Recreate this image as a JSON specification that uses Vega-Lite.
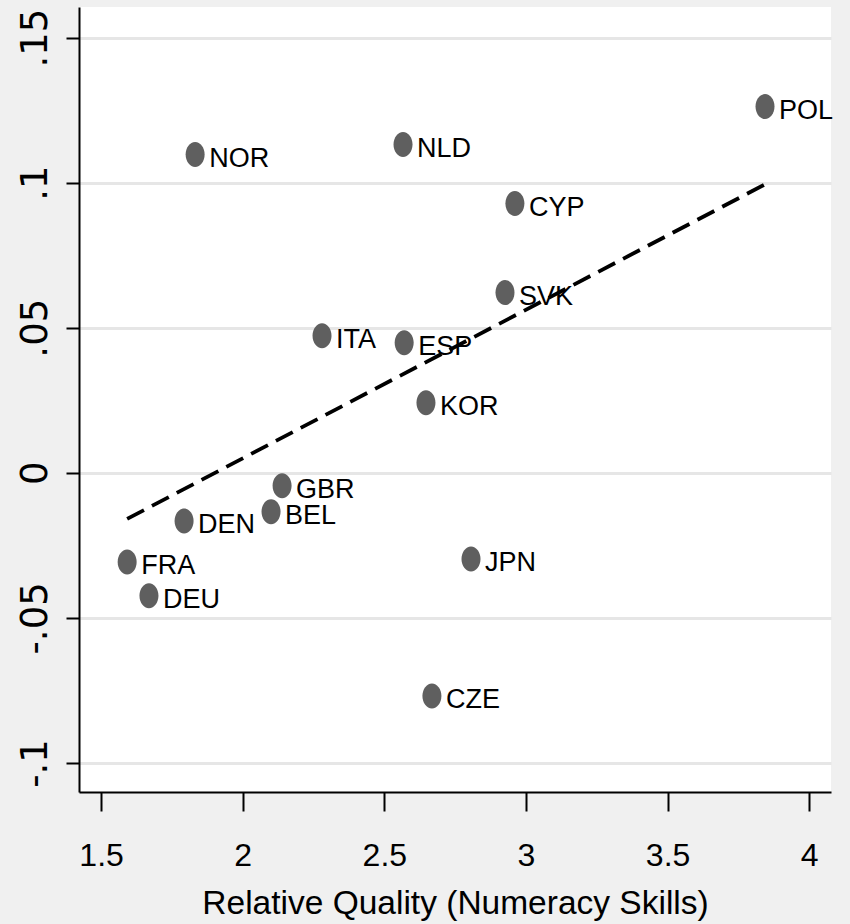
{
  "$schema": "https://vega.github.io/schema/vega-lite/v6.json",
  "width": 752,
  "height": 785,
  "autosize": {"type": "none"},
  "padding": {"top": 7, "left": 79, "right": 19, "bottom": 132},
  "background": "#f0f0f0",
  "config": {
    "view": {"fill": "white", "stroke": null},
    "axis": {
      "domainColor": "black",
      "domainWidth": 2,
      "tickColor": "black",
      "tickWidth": 2,
      "labelColor": "black",
      "titleColor": "black",
      "titleFontWeight": "normal"
    }
  },
  "datasets": {
    "countries": [
      {"country": "POL", "quality": 3.844, "effect": 0.1262},
      {"country": "NOR", "quality": 1.832, "effect": 0.1097},
      {"country": "NLD", "quality": 2.566, "effect": 0.1131},
      {"country": "CYP", "quality": 2.961, "effect": 0.0928},
      {"country": "SVK", "quality": 2.926, "effect": 0.0621},
      {"country": "ITA", "quality": 2.280, "effect": 0.0472},
      {"country": "ESP", "quality": 2.570, "effect": 0.0448},
      {"country": "KOR", "quality": 2.647, "effect": 0.0241},
      {"country": "GBR", "quality": 2.139, "effect": -0.0045},
      {"country": "BEL", "quality": 2.100, "effect": -0.0134},
      {"country": "DEN", "quality": 1.793, "effect": -0.0166},
      {"country": "FRA", "quality": 1.592, "effect": -0.0307},
      {"country": "DEU", "quality": 1.669, "effect": -0.0424},
      {"country": "JPN", "quality": 2.806, "effect": -0.0297},
      {"country": "CZE", "quality": 2.668, "effect": -0.0769}
    ],
    "fit": [
      {"quality": 1.592, "effect": -0.0159},
      {"quality": 3.844, "effect": 0.0994}
    ]
  },
  "layer": [
    {
      "data": {"name": "countries"},
      "mark": {
        "type": "point",
        "filled": true,
        "opacity": 1,
        "color": "#5f5f5f",
        "size": 625,
        "shape": "M0,-1 C0.42,-1 0.76,-0.5523 0.76,0 C0.76,0.5523 0.42,1 0,1 C-0.42,1 -0.76,0.5523 -0.76,0 C-0.76,-0.5523 -0.42,-1 0,-1 Z"
      },
      "encoding": {
        "x": {
          "field": "quality",
          "type": "quantitative",
          "scale": {"domain": [1.422, 4.077], "nice": false, "zero": false},
          "axis": {
            "values": [1.5, 2, 2.5, 3, 3.5, 4],
            "format": ".1~f",
            "grid": false,
            "tickSize": 19,
            "labelFont": "Liberation Sans, Arial, sans-serif",
            "labelFontSize": 32,
            "labelPadding": 29,
            "labelFlush": false,
            "title": "Relative Quality (Numeracy Skills)",
            "titleFont": "Liberation Sans, Arial, sans-serif",
            "titleFontSize": 33.5,
            "titleBaseline": "alphabetic",
            "titleY": 121
          }
        },
        "y": {
          "field": "effect",
          "type": "quantitative",
          "scale": {"domain": [-0.1100, 0.16052], "nice": false, "zero": false},
          "axis": {
            "values": [-0.1, -0.05, 0, 0.05, 0.1, 0.15],
            "labelExpr": "replace(toString(datum.value), '0.', '.')",
            "grid": true,
            "gridColor": "#e6e6e6",
            "gridWidth": 3,
            "tickSize": 13,
            "labelAngle": -90,
            "labelAlign": "center",
            "labelBaseline": "alphabetic",
            "labelPadding": 20,
            "labelFont": "DejaVu Sans, sans-serif",
            "labelFontSize": 37,
            "labelFlush": false,
            "title": null
          }
        }
      }
    },
    {
      "data": {"name": "countries"},
      "mark": {
        "type": "text",
        "align": "left",
        "baseline": "middle",
        "dx": 14,
        "dy": 4.3,
        "font": "Liberation Sans, Arial, sans-serif",
        "fontSize": 27,
        "color": "black"
      },
      "encoding": {
        "x": {"field": "quality", "type": "quantitative"},
        "y": {"field": "effect", "type": "quantitative"},
        "text": {"field": "country"}
      }
    },
    {
      "data": {"name": "fit"},
      "mark": {
        "type": "line",
        "color": "black",
        "strokeWidth": 3.8,
        "strokeDash": [19, 9]
      },
      "encoding": {
        "x": {"field": "quality", "type": "quantitative"},
        "y": {"field": "effect", "type": "quantitative"}
      }
    }
  ]
}
